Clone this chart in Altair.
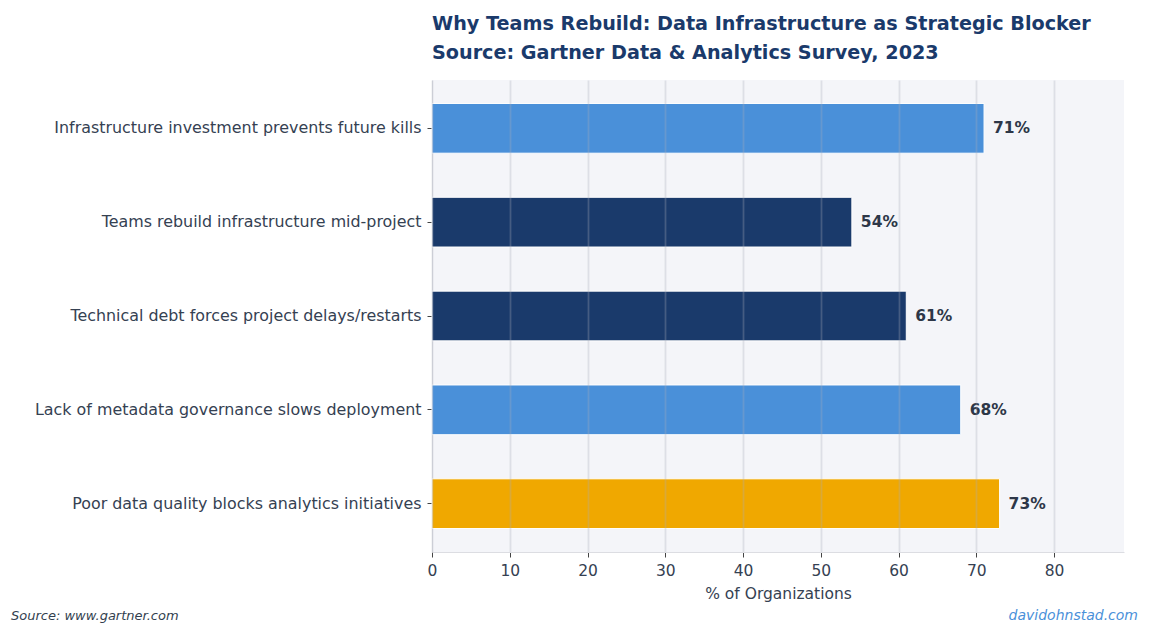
import altair as alt
import pandas as pd

categories = [
    "Infrastructure investment prevents future kills",
    "Teams rebuild infrastructure mid-project",
    "Technical debt forces project delays/restarts",
    "Lack of metadata governance slows deployment",
    "Poor data quality blocks analytics initiatives",
]
values = [71, 54, 61, 68, 73]
groups = ["secondary", "primary", "primary", "secondary", "top"]
x_ticks = [0, 10, 20, 30, 40, 50, 60, 70, 80]

df = pd.DataFrame({"cat": categories, "val": values, "grp": groups})
df["lbl"] = [f"{v}%" for v in values]

FONT = "DejaVu Sans"
TXT = "#354152"

y_enc = alt.Y("cat:N", sort=categories, title=None,
              scale=alt.Scale(paddingInner=0.47, paddingOuter=0.25),
              axis=alt.Axis(labelFontSize=15.9, labelColor=TXT, labelFont=FONT,
                            labelPadding=6, tickSize=5, tickColor="#444444",
                            domainColor="#dcdde2", grid=False, labelLimit=600))
x_scale = alt.Scale(domain=[0, 89], nice=False)

bars = alt.Chart(df).mark_bar(stroke="white", strokeWidth=1).encode(
    x=alt.X("val:Q", scale=x_scale, title="% of Organizations",
            axis=alt.Axis(values=x_ticks, labelFontSize=15.5, labelColor=TXT,
                          labelFont=FONT, titleFont=FONT, titleFontSize=15.5,
                          titleFontWeight="normal", titleColor=TXT,
                          titlePadding=8, tickSize=5, tickColor="#444444",
                          domainColor="#dcdde2", grid=True, labelFlush=False,
                          gridColor="#a8adb8", gridOpacity=0.3, gridWidth=1.8,
                          zindex=1, labelPadding=6)),
    y=y_enc,
    color=alt.Color("grp:N", legend=None,
                    scale=alt.Scale(domain=["secondary", "primary", "top"],
                                    range=["#4a90d9", "#1a3a6b", "#f0a800"])),
)

labels = alt.Chart(df).mark_text(align="left", baseline="middle", dx=9,
                                 fontSize=15.5, fontWeight="bold", font=FONT,
                                 color="#2d3748").encode(
    x=alt.X("val:Q", scale=x_scale),
    y=alt.Y("cat:N", sort=categories),
    text="lbl:N",
)

foot = pd.DataFrame({"t": ["Source: www.gartner.com"]})
foot2 = pd.DataFrame({"t": ["davidohnstad.com"]})
src = alt.Chart(foot).mark_text(align="left", baseline="alphabetic", fontSize=13,
                                fontStyle="italic", font=FONT, color="#333f4f").encode(
    x=alt.value(-421), y=alt.value(540), text="t:N")
site = alt.Chart(foot2).mark_text(align="right", baseline="alphabetic", fontSize=14,
                                  fontStyle="italic", font=FONT, color="#4a90d9").encode(
    x=alt.value(706), y=alt.value(540), text="t:N")

chart = alt.layer(bars, labels, src, site).properties(
    width=692, height=472,
    title=alt.TitleParams(
        text=["Why Teams Rebuild: Data Infrastructure as Strategic Blocker",
              "Source: Gartner Data & Analytics Survey, 2023"],
        anchor="start", frame="group", font=FONT, fontSize=19.2,
        fontWeight="bold", color="#1a3a6b", lineHeight=29, offset=17),
    autosize=alt.AutoSizeParams(type="none"),
    padding={"left": 432, "top": 80, "right": 26, "bottom": 82},
    background="white",
).configure_view(fill="#f4f5f9", stroke=None)

chart.save("out.html", embed_options={"renderer": "svg", "actions": False})
